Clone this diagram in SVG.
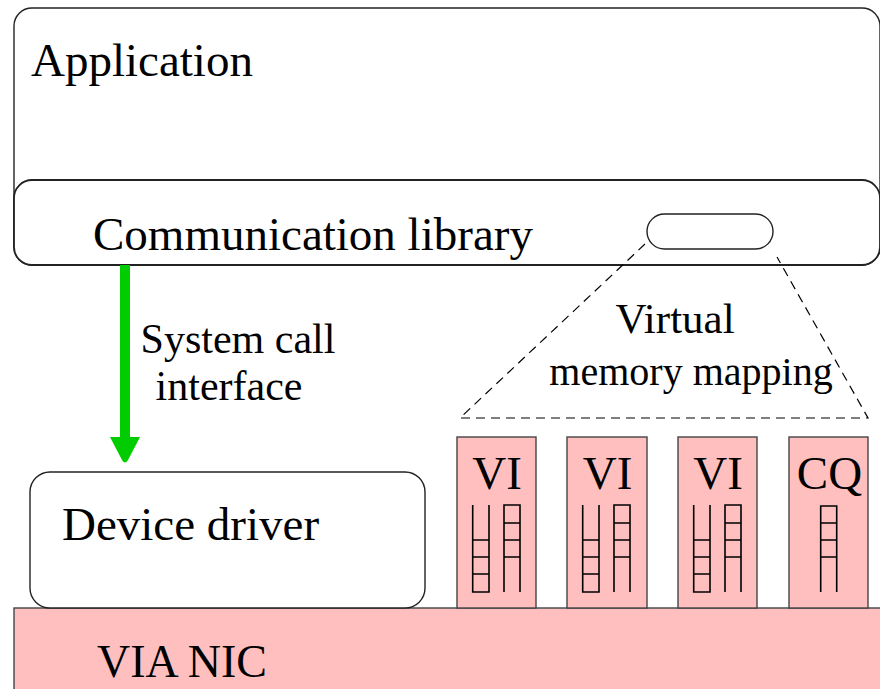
<svg xmlns="http://www.w3.org/2000/svg" width="880" height="689" viewBox="0 0 880 689">
  <style>
    .box { fill: #ffffff; stroke: #222222; stroke-width: 1.4; }
    .pink { fill: #ffbfbf; stroke: #444444; stroke-width: 1.4; }
    .lbl { font-family: "Liberation Serif", "Times New Roman", serif; fill: #000000; }
    .big { font-size: 47px; }
    .mid { font-size: 42px; }
    .q { fill: none; stroke: #000000; stroke-width: 1.6; }
    .dash { fill: none; stroke: #000000; stroke-width: 1.2; stroke-dasharray: 9 6; }
  </style>
  <defs>
    <!-- two-queue VI layout: left queue filled from bottom, right queue filled from top -->
    <g id="viQueues">
      <path class="q" d="M15.7,68 V155 H32 V68 M15.7,103 H32 M15.7,120 H32 M15.7,137 H32"/>
      <path class="q" d="M47,155 V68 H63 V155 M47,86 H63 M47,103 H63 M47,120 H63"/>
    </g>
  </defs>

  <!-- Application layer -->
  <g id="application">
    <rect class="box" x="14" y="8" width="866" height="257" rx="18"/>
    <text class="lbl big" x="31" y="76">Application</text>
  </g>

  <!-- Communication library -->
  <g id="comm-library">
    <rect class="box" x="14" y="180" width="866" height="85" rx="18" style="stroke-width:1.8"/>
    <text class="lbl big" x="93" y="250">Communication library</text>
    <rect class="box" x="647" y="214" width="126" height="35" rx="17.5"/>
  </g>

  <!-- VIA NIC base -->
  <g id="via-nic">
    <rect class="pink" x="14" y="608" width="880" height="100"/>
    <text class="lbl big" x="97" y="677" style="font-size:46px">VIA NIC</text>
  </g>

  <!-- Device driver -->
  <g id="device-driver">
    <rect class="box" x="30" y="472" width="395" height="136" rx="20"/>
    <text class="lbl big" x="62" y="540">Device driver</text>
  </g>

  <!-- VI and CQ blocks on the NIC -->
  <g id="vi-1">
    <rect class="pink" x="457" y="437" width="79" height="171"/>
    <text class="lbl big" x="497" y="489" text-anchor="middle">VI</text>
    <use href="#viQueues" x="457" y="437"/>
  </g>
  <g id="vi-2">
    <rect class="pink" x="567" y="437" width="80" height="171"/>
    <text class="lbl big" x="607.5" y="489" text-anchor="middle">VI</text>
    <use href="#viQueues" x="567" y="437"/>
  </g>
  <g id="vi-3">
    <rect class="pink" x="678" y="437" width="79" height="171"/>
    <text class="lbl big" x="718" y="489" text-anchor="middle">VI</text>
    <use href="#viQueues" x="678" y="437"/>
  </g>
  <g id="cq">
    <rect class="pink" x="789" y="437" width="79" height="171"/>
    <text class="lbl big" x="829.5" y="489" text-anchor="middle">CQ</text>
    <path class="q" d="M820.7,592 V506 H836.7 V592 M820.7,523 H836.7 M820.7,540 H836.7 M820.7,557 H836.7"/>
  </g>

  <!-- Connectors -->
  <g id="connectors">
    <!-- system call arrow -->
    <rect x="120" y="265" width="10" height="175" fill="#00cc00"/>
    <path d="M110,437 L140,437 L128,460 Q125,465 122,460 Z" fill="#00cc00"/>
    <!-- virtual memory mapping trapezoid -->
    <path class="dash" d="M645,244 L460,418 L868,418 L777,257"/>
  </g>

  <g id="labels">
    <text class="lbl mid" x="238" y="353" text-anchor="middle">System call</text>
    <text class="lbl mid" x="229" y="400" text-anchor="middle">interface</text>
    <text class="lbl mid" x="675" y="333" text-anchor="middle" style="font-size:43px">Virtual</text>
    <text class="lbl mid" x="691" y="385" text-anchor="middle" style="font-size:40px">memory mapping</text>
  </g>
</svg>
